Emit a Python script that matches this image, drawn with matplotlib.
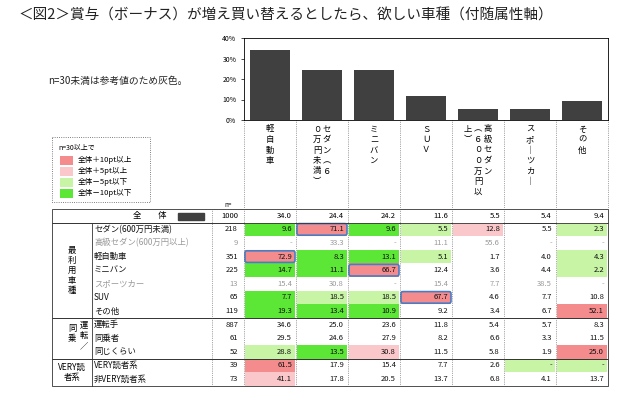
import matplotlib.pyplot as plt
from matplotlib.patches import Rectangle, FancyBboxPatch

plt.rcParams['font.family'] = 'Noto Sans CJK JP'

# data
categories = ['軽自動車', 'セダン（600万円未満）', 'ミニバン', 'SUV',
              '高級セダン（600万円以上）', 'スポーツカー', 'その他']
overall_n = 1000
overall = [34.0, 24.4, 24.2, 11.6, 5.5, 5.4, 9.4]

row_labels = ['セダン(600万円未満)', '高級セダン(600万円以上)', '軽自動車', 'ミニバン',
              'スポーツカー', 'SUV', 'その他', '運転手', '同乗者', '同じくらい',
              'VERY読者系', '非VERY読者系']
row_n = [218, 9, 351, 225, 13, 65, 119, 887, 61, 52, 39, 73]
row_values = [
    [9.6, 71.1, 9.6, 5.5, 12.8, 5.5, 2.3],
    [None, 33.3, None, 11.1, 55.6, None, None],
    [72.9, 8.3, 13.1, 5.1, 1.7, 4.0, 4.3],
    [14.7, 11.1, 66.7, 12.4, 3.6, 4.4, 2.2],
    [15.4, 30.8, None, 15.4, 7.7, 38.5, None],
    [7.7, 18.5, 18.5, 67.7, 4.6, 7.7, 10.8],
    [19.3, 13.4, 10.9, 9.2, 3.4, 6.7, 52.1],
    [34.6, 25.0, 23.6, 11.8, 5.4, 5.7, 8.3],
    [29.5, 24.6, 27.9, 8.2, 6.6, 3.3, 11.5],
    [28.8, 13.5, 30.8, 11.5, 5.8, 1.9, 25.0],
    [61.5, 17.9, 15.4, 7.7, 2.6, None, None],
    [41.1, 17.8, 20.5, 13.7, 6.8, 4.1, 13.7],
]
# R: +10pt, P: +5pt, l: -5pt, G: -10pt
row_codes = [
    'GRGlP.l',
    '.......',
    'RGGl..l',
    'GGR...l',
    '.......',
    'GllR...',
    'GGG...R',
    '.......',
    '.......',
    'lGP...R',
    'R....ll',
    'P......',
]
highlights = [(0, 1), (2, 0), (3, 2), (5, 3)]
groups = [('最\n利\n用\n車\n種', 0, 7), ('同\n乗\n　', 7, 10), ('VERY読\n者系', 10, 12)]

fill = {'R': '#F48C8E', 'P': '#FAC8CA', 'l': '#C8F5A5', 'G': '#5CE636'}
headers = [['軽自動車'], ['０万円未満︶', 'セダン︵６'], ['ミニバン'], ['ＳＵＶ'],
           ['上︶', '︵６００万円以', '高級セダン'], ['スポ｜ツカ｜'], ['その他']]

fig = plt.figure(figsize=(6.4, 4), dpi=100)
ax = fig.add_axes([0, 0, 1, 1])
ax.set_xlim(0, 640)
ax.set_ylim(400, 0)
ax.axis('off')

ax.text(18, 16, '＜図2＞賞与（ボーナス）が増え買い替えるとしたら、欲しい車種（付随属性軸）',
        fontsize=10.5, va='center', color='#222')
ax.text(48, 81, 'n=30未満は参考値のため灰色。', fontsize=7, va='center', color='#222')

# legend box
ax.add_patch(Rectangle((52, 137), 98, 65, fill=False, ec='#555', lw=0.6, ls=':'))
ax.text(58, 148, 'n=30以上で', fontsize=5, va='center')
for i, (k, t) in enumerate(zip('RPlG', ['全体＋10pt以上', '全体＋5pt以上', '全体－5pt以下', '全体－10pt以下'])):
    y = 160 + i * 11
    ax.add_patch(Rectangle((60, y - 4.5), 13, 9, color=fill[k], lw=0))
    ax.text(78, y, t, fontsize=5.5, va='center')

# bar chart
col_edges = [244, 296, 348, 400, 452, 504, 556, 608]
bax = fig.add_axes([244 / 640, 1 - 120 / 400, 364 / 640, 82 / 400])
bax.bar(range(7), overall, width=0.78, color='#404040')
bax.set_xlim(-0.5, 6.5)
bax.set_ylim(0, 40)
bax.set_yticks([0, 10, 20, 30, 40])
bax.set_yticklabels([f'{v}%' for v in [0, 10, 20, 30, 40]], fontsize=5)
bax.set_xticks([])
bax.tick_params(axis='y', length=2, width=0.5)
for s in bax.spines.values():
    s.set_linewidth(0.6)

# column headers (vertical)
for c, cols in enumerate(headers):
    x0, x1 = col_edges[c], col_edges[c + 1]
    nc = len(cols)
    for j, txt in enumerate(cols):
        cx = (x0 + x1) / 2 + (j - (nc - 1) / 2) * 10
        for k, ch in enumerate(txt):
            ax.text(cx, 129 + k * 10.5, ch, fontsize=6, ha='center', va='center')
for x in col_edges:
    ax.plot([x, x], [120, 208], color='#555', lw=0.5, ls=':')
ax.text(228, 205, 'n=', fontsize=4.5, ha='center', va='center')

# table
row_h = 13.6
top = 209
ys = [top + row_h * (i + 1.5) for i in range(len(row_labels))]
def fmt(v):
    return '-' if v is None else f'{v:.1f}'

# overall row
ax.add_patch(Rectangle((52, top), 556, row_h, fill=False, ec='#333', lw=0.6))
ax.text(150, top + row_h / 2, '全　　体', fontsize=6, ha='center', va='center')
ax.add_patch(Rectangle((178, top + 3.5), 26, 7, color='#404040'))
ax.text(238, top + row_h / 2, str(overall_n), fontsize=5.5, ha='right', va='center')
for c, v in enumerate(overall):
    ax.text(col_edges[c + 1] - 4, top + row_h / 2, fmt(v), fontsize=5.5, ha='right', va='center')

for i, (lab, n, vals, codes) in enumerate(zip(row_labels, row_n, row_values, row_codes)):
    y = ys[i]
    tc = '#999' if n < 30 else '#111'
    ax.text(94, y, lab, fontsize=6, va='center', color=tc)
    ax.text(238, y, str(n), fontsize=5.5, ha='right', va='center', color=tc)
    for c, v in enumerate(vals):
        if n >= 30 and codes[c] in fill:
            ax.add_patch(Rectangle((col_edges[c] + 1, y - row_h / 2), col_edges[c + 1] - col_edges[c] - 2,
                                   row_h, color=fill[codes[c]], lw=0))
        ax.text(col_edges[c + 1] - 4, y, fmt(v), fontsize=5.5, ha='right', va='center', color=tc)

for r, c in highlights:
    y = ys[r]
    ax.add_patch(FancyBboxPatch((col_edges[c] + 1, y - row_h / 2 + 1), col_edges[c + 1] - col_edges[c] - 2,
                                row_h - 2, boxstyle='round,pad=0,rounding_size=2',
                                fill=False, ec='#4A7CC4', lw=1.2))

for lab, a, b in groups:
    y0 = top + row_h * (a + 1)
    y1 = top + row_h * (b + 1)
    ax.add_patch(Rectangle((52, y0), 556, y1 - y0, fill=False, ec='#333', lw=0.6))
    ax.text(72, (y0 + y1) / 2, lab, fontsize=6, ha='center', va='center', linespacing=1.15)
ax.text(84, top + row_h * 9.3, '運\n転\n／', fontsize=6, ha='center', va='center', linespacing=1.15)
ax.plot([92, 92], [top + row_h, top + row_h * 13], color='#333', lw=0.6)
for x in [212] + col_edges:
    ax.plot([x, x], [top, top + row_h * 13], color='#555', lw=0.5, ls=':')

fig.savefig('out.png', dpi=100)
